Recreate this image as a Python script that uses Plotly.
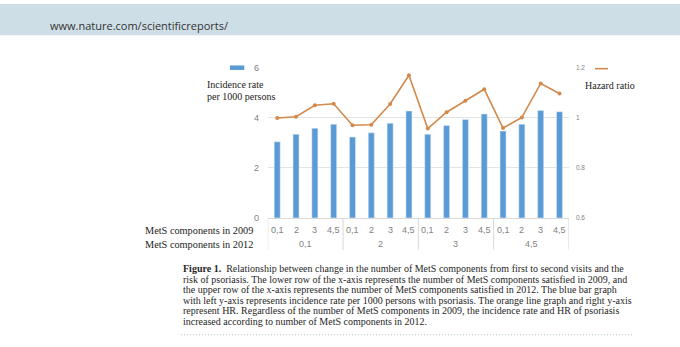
import plotly.graph_objects as go

W, H = 680, 347

# ---- data ----
groups_2012 = ["0,1", "2", "3", "4,5"]
comps_2009 = ["0,1", "2", "3", "4,5"]
incidence = [3.04, 3.34, 3.58, 3.74,
             3.23, 3.40, 3.78, 4.27,
             3.34, 3.69, 3.93, 4.15,
             3.47, 3.74, 4.29, 4.24]
hazard = [0.999, 1.004, 1.050, 1.056,
          0.970, 0.972, 1.055, 1.170,
          0.957, 1.022, 1.068, 1.114,
          0.959, 1.001, 1.137, 1.097]
left_ticks = [0, 2, 4, 6]
right_ticks = [0.6, 0.8, 1.0, 1.2]
right_ticktext = ["0.6", "0.8", "1", "1.2"]

caption = [
    "<b>Figure 1.</b>\u00a0\u00a0Relationship between change in the number of MetS components from first to second visits and the",
    "risk of psoriasis. The lower row of the x-axis represents the number of MetS components satisfied in 2009, and",
    "the upper row of the x-axis represents the number of MetS components satisfied in 2012. The blue bar graph",
    "with left y-axis represents incidence rate per 1000 persons with psoriasis. The orange line graph and right y-axis",
    "represent HR. Regardless of the number of MetS components in 2009, the incidence rate and HR of psoriasis",
    "increased according to number of MetS components in 2012.",
]

BLUE = "#5b9bd5"
ORANGE = "#d4894b"
SERIF = "Liberation Serif"
SANS = "Liberation Sans"
GRAY_TXT = "#7f7f7f"


def px(x):
    return x / W


def py(y):
    return 1 - y / H


n_in = len(comps_2009)
inner = [c for _ in groups_2012 for c in comps_2009]
xpos = list(range(len(inner)))

fig = go.Figure()
fig.add_trace(go.Bar(x=xpos, y=incidence, marker_color=BLUE,
                     width=0.32, showlegend=False))
fig.add_trace(go.Scatter(x=xpos, y=hazard, yaxis="y2", mode="lines+markers",
                         line=dict(color=ORANGE, width=1.6),
                         marker=dict(color=ORANGE, size=4), showlegend=False))

x0, x1 = 267.8, 568.9
y0, y1 = 218.3, 65.0

fig.update_layout(
    width=W, height=H,
    margin=dict(l=0, r=0, t=0, b=0),
    paper_bgcolor="white", plot_bgcolor="white",
    xaxis=dict(domain=[px(x0), px(x1)], range=[-0.5, len(inner) - 0.5],
               showticklabels=False,
               showline=True, linecolor="#d9d9d9", linewidth=1,
               ticks="", showgrid=False, zeroline=False),
    yaxis=dict(domain=[py(y0), py(y1)], range=[0, 6], tickvals=left_ticks,
               showticklabels=False,
               showgrid=True, gridcolor="#e3e3e3", gridwidth=1, zeroline=False),
    yaxis2=dict(overlaying="y", side="right", range=[0.6, 1.2],
                tickvals=right_ticks, ticktext=right_ticktext, showgrid=False,
                zeroline=False, tickfont=dict(family=SANS, size=6.5, color=GRAY_TXT),
                ticklabelstandoff=6),
)

shapes = [
    # header band
    dict(type="rect", xref="paper", yref="paper", x0=0, x1=1, y0=py(32), y1=1,
         fillcolor="#cedee6", line=dict(width=0), layer="below"),
    # legend keys
    dict(type="rect", xref="paper", yref="paper", x0=px(230), x1=px(244.3),
         y0=py(67.3), y1=py(62.7), fillcolor=BLUE, line=dict(width=0)),
    dict(type="line", xref="paper", yref="paper", x0=px(595), x1=px(608),
         y0=py(66), y1=py(66), line=dict(color=ORANGE, width=1.6)),
    # dotted rule under caption
    dict(type="line", xref="paper", yref="paper", x0=px(181), x1=px(633),
         y0=py(337.5), y1=py(337.5), line=dict(color="#b3c8d3", width=1, dash="1px,2px")),
]

ann = []

# left axis tick labels
for v in left_ticks:
    ann.append(dict(x=px(260.5), y=v, xref="paper", yref="y", text=str(v),
                    showarrow=False, xanchor="right", yanchor="middle",
                    font=dict(family=SANS, size=9, color=GRAY_TXT)))

# inner (2009) category labels
for i, lab in zip(xpos, inner):
    ann.append(dict(x=i, y=py(231), xref="x", yref="paper",
                    text=lab, showarrow=False, xanchor="center", yanchor="middle",
                    font=dict(family=SANS, size=9, color=GRAY_TXT)))

# group dividers and outer (2012) category labels
for gi, g in enumerate(groups_2012):
    members = [i for i in xpos if i // n_in == gi]
    shapes.append(dict(type="line", xref="x", yref="paper",
                       x0=members[0] - 0.5, x1=members[0] - 0.5,
                       y0=py(y0), y1=py(251), line=dict(color="#d9d9d9", width=1)))
    ann.append(dict(x=sum(members) / len(members), y=py(245), xref="x", yref="paper",
                    text=g, showarrow=False, xanchor="center", yanchor="middle",
                    font=dict(family=SANS, size=9, color=GRAY_TXT)))
shapes.append(dict(type="line", xref="x", yref="paper",
                   x0=xpos[-1] + 0.5, x1=xpos[-1] + 0.5,
                   y0=py(y0), y1=py(251), line=dict(color="#d9d9d9", width=1)))


def text(x, y, s, size, family, color="#222", xanchor="left"):
    ann.append(dict(x=px(x), y=py(y), xref="paper", yref="paper", text=s,
                    showarrow=False, xanchor=xanchor, yanchor="middle",
                    font=dict(family=family, size=size, color=color)))


text(47.5, 21.5, "www.nature.com/scientificreports/", 11, "Open Sans", "#333")
text(205, 82, "Incidence rate", 10, SERIF)
text(205, 94, "per 1000 persons", 10, SERIF)
text(583, 83, "Hazard ratio", 10, SERIF)
text(254.5, 231, "MetS components in 2009", 10.3, SERIF, xanchor="right")
text(254.5, 245, "MetS components in 2012", 10.3, SERIF, xanchor="right")

cap_y = [270.2, 280.9, 291.6, 302.3, 313.0, 323.7]
for yy, line in zip(cap_y, caption):
    text(180.5, yy, line, 10.0, SERIF, "#262626")

fig.update_layout(shapes=shapes, annotations=ann)
fig.write_html("out.html")
